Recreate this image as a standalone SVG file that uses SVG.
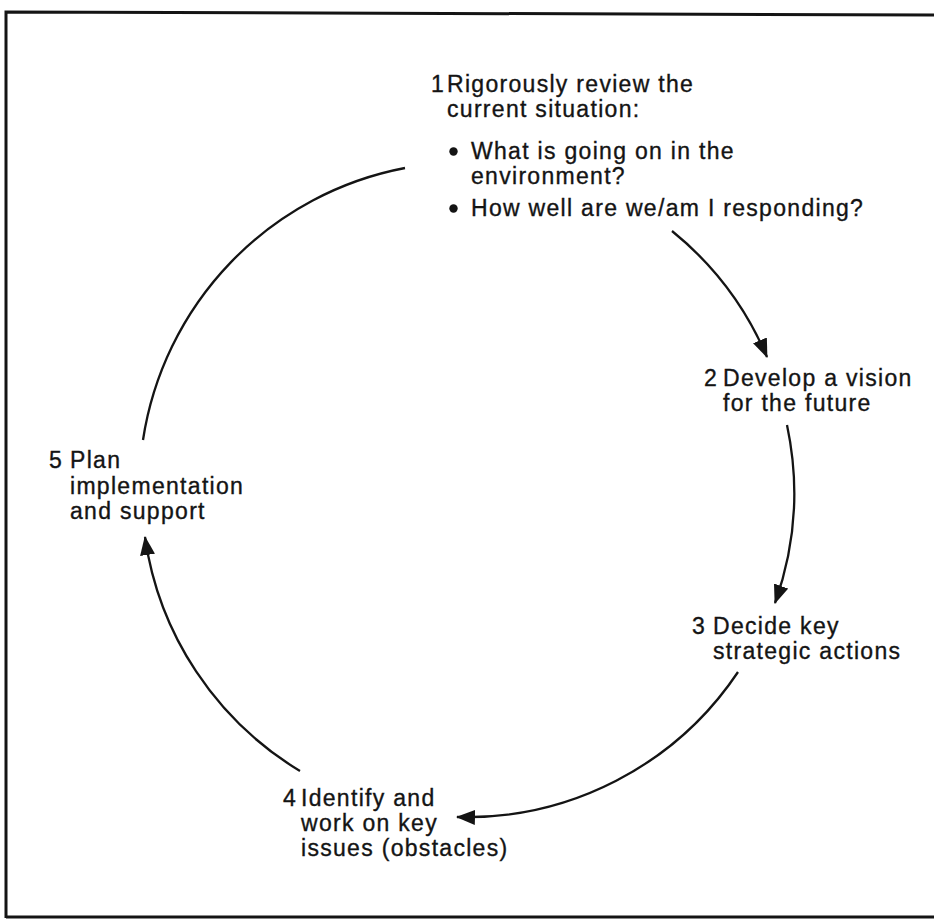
<svg xmlns="http://www.w3.org/2000/svg" width="934" height="922" viewBox="0 0 934 922">
<style>
.t{font-family:"Liberation Sans",Arial,Helvetica,sans-serif;font-size:23px;letter-spacing:1.3px;fill:#141414;stroke:#141414;stroke-width:0.35}
.c{fill:none;stroke:#141414;stroke-width:2.3}
.b{fill:none;stroke:#141414;stroke-width:3}
</style>
<defs>
<marker id="ah" markerUnits="userSpaceOnUse" markerWidth="22" markerHeight="18" refX="18" refY="7.5" orient="auto">
<path d="M0,0 L19,7.5 L0,15 Z" fill="#141414"/>
</marker>
</defs>
<rect width="934" height="922" fill="#ffffff"/>
<g id="frame">
<path class="b" d="M6,918 L6,12 L934,15"/>
<path class="b" d="M6,917 L934,917"/>
</g>
<g id="connectors">
<path class="c" d="M143,440 A327,327 0 0 1 405,168"/>
<path class="c" d="M672,231 A327,327 0 0 1 767,357" marker-end="url(#ah)"/>
<path class="c" d="M787,425 A327,327 0 0 1 775,603" marker-end="url(#ah)"/>
<path class="c" d="M738,672 A327,327 0 0 1 457,817" marker-end="url(#ah)"/>
<path class="c" d="M300,771 A327,327 0 0 1 145,537" marker-end="url(#ah)"/>
</g>
<g id="n1">
<text class="t" x="431" y="92">1</text>
<text class="t" x="447" y="92">Rigorously review the</text>
<text class="t" x="447" y="117">current situation:</text>
<circle cx="453.5" cy="151.5" r="4.2" fill="#141414"/>
<text class="t" x="471" y="159">What is going on in the</text>
<text class="t" x="471" y="184">environment?</text>
<circle cx="453.5" cy="208.5" r="4.2" fill="#141414"/>
<text class="t" x="471" y="216">How well are we/am I responding?</text>
</g>
<g id="n2">
<text class="t" x="704" y="386">2</text>
<text class="t" x="723" y="386">Develop a vision</text>
<text class="t" x="723" y="411">for the future</text>
</g>
<g id="n3">
<text class="t" x="692" y="634">3</text>
<text class="t" x="713" y="634">Decide key</text>
<text class="t" x="713" y="659">strategic actions</text>
</g>
<g id="n4">
<text class="t" x="283" y="806">4</text>
<text class="t" x="301" y="806">Identify and</text>
<text class="t" x="301" y="831">work on key</text>
<text class="t" x="301" y="856">issues (obstacles)</text>
</g>
<g id="n5">
<text class="t" x="49" y="468">5</text>
<text class="t" x="70" y="468">Plan</text>
<text class="t" x="70" y="494">implementation</text>
<text class="t" x="70" y="519">and support</text>
</g>
</svg>
